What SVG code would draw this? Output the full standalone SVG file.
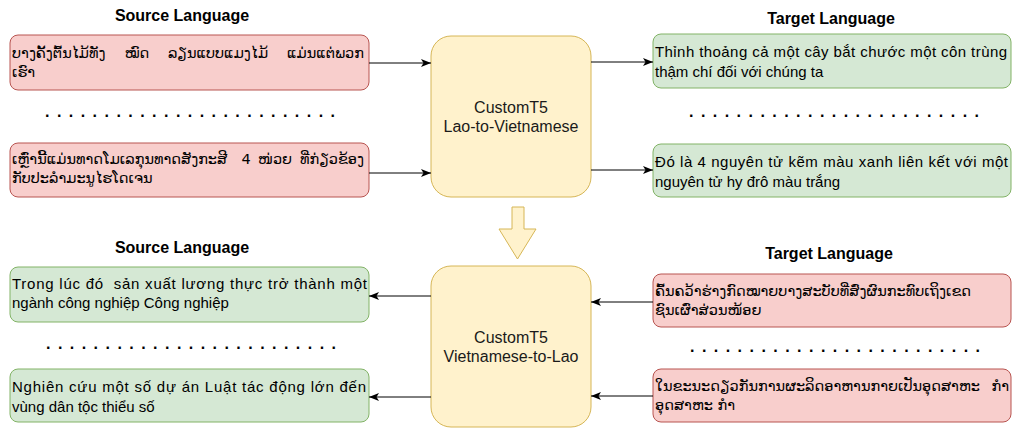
<svg xmlns="http://www.w3.org/2000/svg" width="1016" height="428" viewBox="0 0 1016 428">
<style>
.red{fill:#f8cecc;stroke:#b85450;stroke-width:1}
.green{fill:#d5e8d4;stroke:#82b366;stroke-width:1}
.core{fill:#fff2cc;stroke:#d6b656;stroke-width:1}
text{font-family:"Liberation Sans",Arial,sans-serif;fill:#000}
.t{font-size:15px}
.lao{font-family:"DejaVu Sans","Noto Sans",sans-serif;font-size:14.5px}
.h{font-size:16px;font-weight:bold;text-anchor:middle}
.c{font-size:16px;text-anchor:middle;fill:#1a1a1a}
.d{font-size:16px;font-weight:bold}
.e{text-anchor:end}
.m{text-anchor:middle}
.conn line{stroke:#000;stroke-width:1;marker-end:url(#arr)}
</style>
<defs>
<marker id="arr" viewBox="0 0 10 8" refX="10" refY="4" markerWidth="10" markerHeight="8" orient="auto" markerUnits="userSpaceOnUse">
<path d="M0,0 L10,4 L0,8 L2.5,4 z" fill="#000"/>
</marker>
</defs>

<g id="headers">
<text class="h" x="182" y="21">Source Language</text>
<text class="h" x="831" y="24">Target Language</text>
<text class="h" x="182" y="253">Source Language</text>
<text class="h" x="829" y="259">Target Language</text>
</g>

<g id="dots">
<text class="d" x="45" y="117" textLength="290" lengthAdjust="spacing">. . . . . . . . . . . . . . . . . . . . . . . . .</text>
<text class="d" x="689" y="117" textLength="290" lengthAdjust="spacing">. . . . . . . . . . . . . . . . . . . . . . . . .</text>
<text class="d" x="46" y="349" textLength="290" lengthAdjust="spacing">. . . . . . . . . . . . . . . . . . . . . . . . .</text>
<text class="d" x="690" y="352" textLength="290" lengthAdjust="spacing">. . . . . . . . . . . . . . . . . . . . . . . . .</text>
</g>

<g id="src-lao-1">
<rect class="red" x="10" y="35" width="359" height="55" rx="8"/>
<text class="lao" x="12" y="58">ບາງຄັ້ງຕົ້ນໄມ້ທັງ</text>
<text class="lao m" x="137" y="58">ໝົດ</text>
<text class="lao m" x="218" y="58">ລຽນແບບແມງໄມ້</text>
<text class="lao e" x="364" y="58">ແມ່ນແຕ່ພວກ</text>
<text class="lao" x="12" y="77">ເຮົາ</text>
</g>

<g id="src-lao-2">
<rect class="red" x="10" y="143" width="359" height="54" rx="8"/>
<text class="lao" x="12" y="164">ເຫຼົ່ານີ້ແມ່ນທາດໂມເລກຸນທາດສັງກະສີ</text>
<text class="lao m" x="246" y="164">4</text>
<text class="lao m" x="275" y="164">ໜ່ວຍ</text>
<text class="lao e" x="364" y="164">ທີ່ກ່ຽວຂ້ອງ</text>
<text class="lao" x="12" y="183">ກັບປະລໍາມະນູໄຮໂດເຈນ</text>
</g>

<g id="model-lao-vi">
<rect class="core" x="431" y="36" width="160" height="161" rx="20"/>
<text class="c" x="511" y="113">CustomT5</text>
<text class="c" x="511" y="132">Lao-to-Vietnamese</text>
</g>

<g id="tgt-vi-1">
<rect class="green" x="653" y="34" width="358" height="54" rx="8"/>
<text class="t" x="655" y="57" textLength="352" lengthAdjust="spacing">Thỉnh thoảng cả một cây bắt chước một côn trùng</text>
<text class="t" x="655" y="77">thậm chí đối với chúng ta</text>
</g>

<g id="tgt-vi-2">
<rect class="green" x="653" y="144" width="358" height="53" rx="8"/>
<text class="t" x="655" y="167" textLength="353" lengthAdjust="spacing">Đó là 4 nguyên tử kẽm màu xanh liên kết với một</text>
<text class="t" x="655" y="187">nguyên tử hy đrô màu trắng</text>
</g>

<g id="transition">
<path d="M512,207 H524 V229 H536 L517.5,259 L499,229 H512 Z" fill="#fff2cc" stroke="#d6b656" stroke-width="1"/>
</g>

<g id="src-vi-1">
<rect class="green" x="10" y="267" width="359" height="55" rx="8"/>
<text class="t" x="12" y="289" textLength="355" lengthAdjust="spacing" xml:space="preserve">Trong lúc đó  sản xuất lương thực trở thành một</text>
<text class="t" x="12" y="308">ngành công nghiệp Công nghiệp</text>
</g>

<g id="src-vi-2">
<rect class="green" x="10" y="369" width="359" height="53" rx="8"/>
<text class="t" x="12" y="392" textLength="354" lengthAdjust="spacing">Nghiên cứu một số dự án Luật tác động lớn đến</text>
<text class="t" x="12" y="412">vùng dân tộc thiểu số</text>
</g>

<g id="model-vi-lao">
<rect class="core" x="431" y="266" width="160" height="161" rx="20"/>
<text class="c" x="511" y="343">CustomT5</text>
<text class="c" x="511" y="362">Vietnamese-to-Lao</text>
</g>

<g id="tgt-lao-1">
<rect class="red" x="653" y="274" width="358" height="53" rx="8"/>
<text class="lao" x="655" y="296">ຄົ້ນຄວ້າຮ່າງກົດໝາຍບາງສະບັບທີ່ສົ່ງຜົນກະທົບເຖິງເຂດ</text>
<text class="lao" x="655" y="315">ຊົນເຜົ່າສ່ວນໜ້ອຍ</text>
</g>

<g id="tgt-lao-2">
<rect class="red" x="653" y="369" width="358" height="53" rx="8"/>
<text class="lao" x="655" y="391">ໃນຂະນະດຽວກັນການຜະລິດອາຫານກາຍເປັນອຸດສາຫະ</text>
<text class="lao e" x="1009" y="391">ກຳ</text>
<text class="lao" x="655" y="410">ອຸດສາຫະ ກຳ</text>
</g>

<g id="connectors" class="conn">
<line x1="369" y1="63" x2="431" y2="63"/>
<line x1="369" y1="173" x2="431" y2="173"/>
<line x1="591" y1="62" x2="653" y2="62"/>
<line x1="591" y1="170" x2="653" y2="170"/>
<line x1="431" y1="296" x2="369" y2="296"/>
<line x1="431" y1="397" x2="369" y2="397"/>
<line x1="653" y1="302" x2="591" y2="302"/>
<line x1="653" y1="396" x2="591" y2="396"/>
</g>
</svg>
